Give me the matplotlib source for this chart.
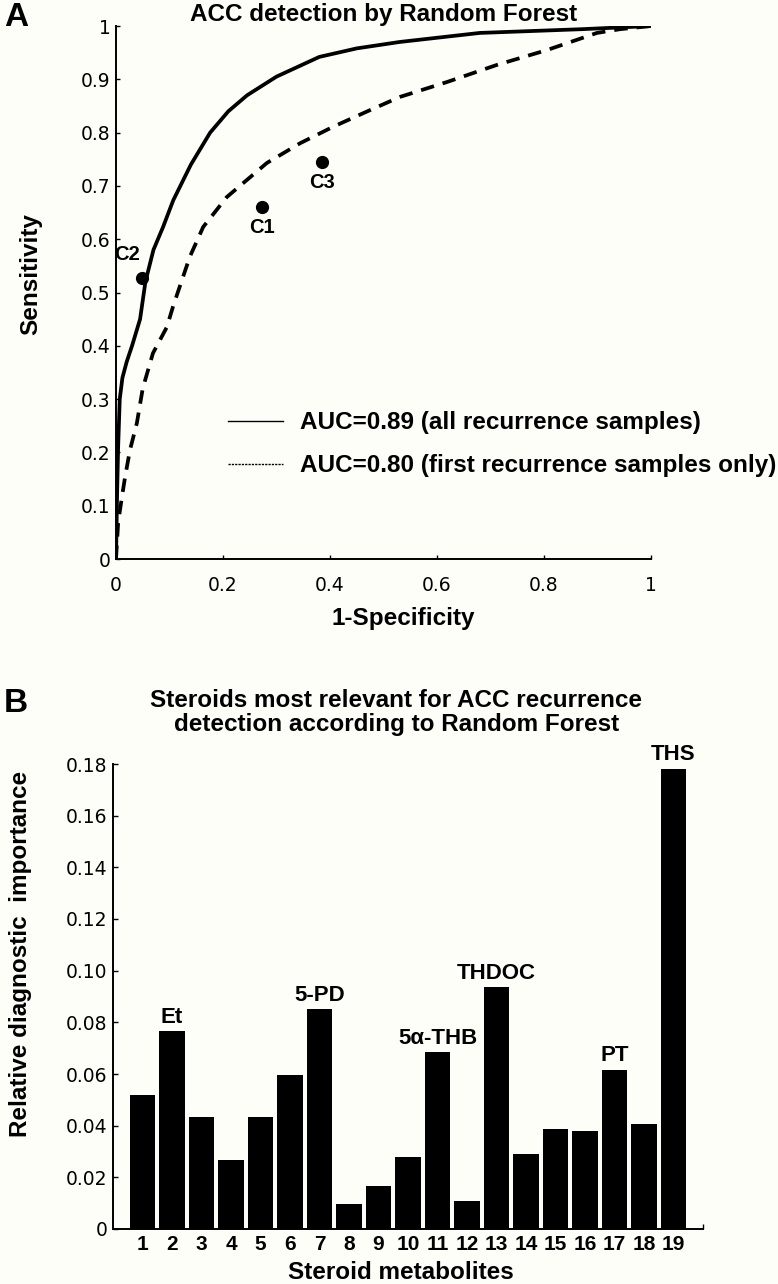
import matplotlib.pyplot as plt
from matplotlib.lines import Line2D

plt.rcParams['font.family'] = ['Liberation Sans', 'DejaVu Sans']

# Panel A: ROC curves
fpr_all = [0, 0.002, 0.004, 0.007, 0.012, 0.02, 0.03, 0.045, 0.055, 0.07, 0.088, 0.107,
           0.14, 0.176, 0.21, 0.245, 0.30, 0.38, 0.45, 0.53, 0.68, 0.87, 1.0]
tpr_all = [0, 0.12, 0.21, 0.30, 0.34, 0.37, 0.40, 0.45, 0.52, 0.58, 0.623, 0.673,
           0.74, 0.80, 0.84, 0.87, 0.905, 0.942, 0.958, 0.97, 0.987, 0.994, 1.0]

fpr_first = [0, 0.004, 0.011, 0.017, 0.026, 0.039, 0.05, 0.069, 0.095, 0.107, 0.138, 0.163,
             0.207, 0.282, 0.344, 0.406, 0.47, 0.531, 0.619, 0.712, 0.806, 0.899, 0.942, 1.0]
tpr_first = [0, 0.068, 0.116, 0.154, 0.204, 0.255, 0.32, 0.386, 0.435, 0.475, 0.567, 0.623,
             0.679, 0.743, 0.780, 0.811, 0.84, 0.867, 0.895, 0.927, 0.955, 0.987, 0.994, 1.0]

cut_names = ['C1', 'C2', 'C3']
cut_fpr = [0.273, 0.049, 0.385]
cut_tpr = [0.660, 0.527, 0.745]

# Panel B: variable importance
steroid_ids = list(range(1, 20))
importance = [0.052, 0.0766, 0.0434, 0.0267, 0.0434, 0.0595, 0.085, 0.0098, 0.0168, 0.0279,
              0.0684, 0.0109, 0.0936, 0.0291, 0.0386, 0.0379, 0.0616, 0.0407, 0.1782]
steroid_names = {2: 'Et', 7: '5-PD', 11: '5α-THB', 13: 'THDOC', 17: 'PT', 19: 'THS'}

bg = '#fefef8'
W, H = 778, 1284

fig = plt.figure(figsize=(W / 100, H / 100), dpi=100, facecolor=bg)

#----- panel A -----
axA = fig.add_axes([116 / W, 1 - 559 / H, 535 / W, 533 / H], facecolor=bg)
axA.plot(fpr_all, tpr_all, color='k', lw=2.7, solid_joinstyle='round')
axA.plot(fpr_first, tpr_first, color='k', lw=2.7, linestyle=(0, (3.6, 2.4)))
axA.plot(cut_fpr, cut_tpr, 'o', color='k', markersize=8.5)
for name, x, y in zip(cut_names, cut_fpr, cut_tpr):
    if name == 'C2':
        off, ha, va = (-11, 10), 'center', 'bottom'
    else:
        off, ha, va = (0, -8), 'center', 'top'
    axA.annotate(name, (x, y), xytext=off, textcoords='offset points',
                 ha=ha, va=va, fontsize=14.5, fontweight='bold')

axA.set_xlim(0, 1)
axA.set_ylim(0, 1)
axA.set_xticks([0, 0.2, 0.4, 0.6, 0.8, 1])
axA.set_xticklabels(['0', '0.2', '0.4', '0.6', '0.8', '1'])
axA.set_yticks([i / 10 for i in range(11)])
axA.set_yticklabels(['0'] + ['0.%d' % i for i in range(1, 10)] + ['1'])
axA.spines['top'].set_visible(False)
axA.spines['right'].set_visible(False)
for s in ['left', 'bottom']:
    axA.spines[s].set_linewidth(1.4)
axA.tick_params(direction='in', length=3, width=1, labelsize=13.5,
                labelfontfamily='DejaVu Sans')
axA.tick_params(axis='x', pad=12)
axA.tick_params(axis='y', pad=4)
axA.set_title('ACC detection by Random Forest', fontsize=17.5, fontweight='bold', pad=-1)
axA.set_xlabel('1-Specificity', fontsize=17.5, fontweight='bold')
axA.xaxis.set_label_coords(0.536, -0.09)
axA.set_ylabel('Sensitivity', fontsize=17.5, fontweight='bold')
axA.yaxis.set_label_coords(-0.138, 0.535)

handles = [Line2D([], [], color='k', lw=1),
           Line2D([], [], color='k', lw=1, linestyle=(0, (1.6, 0.8)))]
labels = ['AUC=0.89 (all recurrence samples)', 'AUC=0.80 (first recurrence samples only)']
axA.legend(handles, labels, loc='upper left', bbox_to_anchor=(0.209, 0.277),
           frameon=False, borderpad=0, borderaxespad=0, handlelength=2.26,
           handletextpad=0.7, labelspacing=0.82,
           prop={'size': 17.5, 'weight': 'bold'})

fig.text(4 / W, 1 - 18 / H, 'A', fontsize=24, fontweight='bold', ha='left', va='center')

#----- panel B -----
axB = fig.add_axes([113 / W, 1 - 1229 / H, 590 / W, 465 / H], facecolor=bg)
bars = axB.bar(steroid_ids, importance, width=0.85, color='k')
for i, v in zip(steroid_ids, importance):
    if i in steroid_names:
        axB.annotate(steroid_names[i], (i, v), xytext=(0, 2.5), textcoords='offset points',
                     ha='center', va='bottom', fontsize=16, fontweight='bold')

axB.set_xlim(0, 20)
axB.set_ylim(0, 0.18)
axB.set_xticks(steroid_ids)
axB.set_xticklabels([str(i) for i in steroid_ids], fontsize=15, fontweight='bold')
axB.set_xticks([20], minor=True)
axB.set_yticks([i * 0.02 for i in range(10)])
axB.set_yticklabels(['0'] + ['%.2f' % (i * 0.02) for i in range(1, 10)])
axB.spines['top'].set_visible(False)
axB.spines['right'].set_visible(False)
for s in ['left', 'bottom']:
    axB.spines[s].set_linewidth(1.4)
axB.tick_params(axis='y', direction='in', length=3.5, width=1, labelsize=13.5,
                labelfontfamily='DejaVu Sans', pad=4)
axB.tick_params(axis='x', which='major', length=0, pad=4)
axB.tick_params(axis='x', which='minor', direction='in', length=3.5, width=1)
axB.set_title('Steroids most relevant for ACC recurrence\ndetection according to Random Forest',
              fontsize=17.5, fontweight='bold', pad=24, x=0.48, linespacing=1.05)
axB.set_xlabel('Steroid metabolites', fontsize=17.5, fontweight='bold')
axB.xaxis.set_label_coords(0.488, -0.068)
axB.set_ylabel('Relative diagnostic  importance', fontsize=17.5, fontweight='bold')
axB.yaxis.set_label_coords(-0.137, 0.591)

fig.text(4 / W, 1 - 703 / H, 'B', fontsize=24, fontweight='bold', ha='left', va='center')

fig.savefig('out.png', dpi=100, facecolor=bg)
